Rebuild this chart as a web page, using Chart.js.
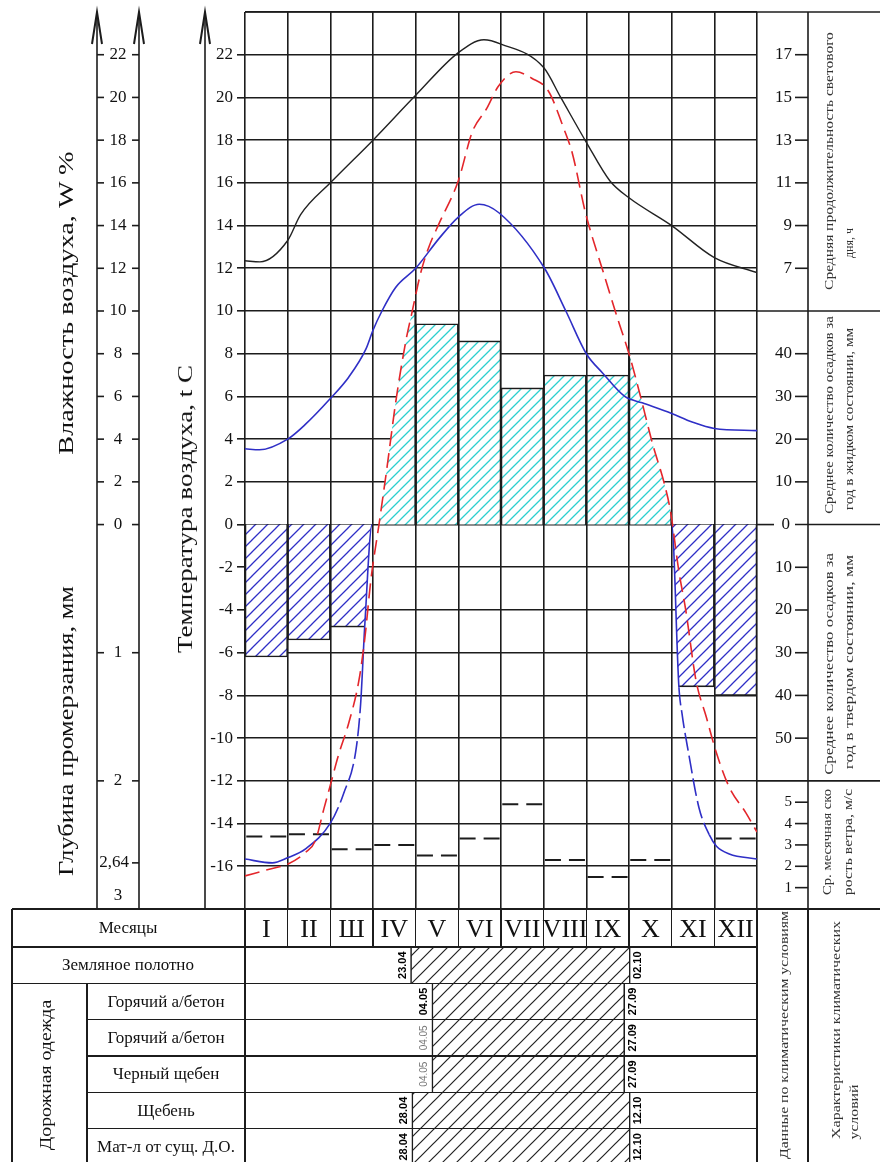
<!DOCTYPE html>
<html><head><meta charset="utf-8">
<script src="https://cdn.jsdelivr.net/npm/chart.js@4.4.1/dist/chart.umd.min.js"></script>
<style>
html,body{margin:0;padding:0;background:#fff;width:880px;height:1162px;overflow:hidden;position:relative;}
canvas{position:absolute;left:0;}
#c1{top:0;}
#c2{top:947px;}
.ln{position:absolute;background:#1c1c1c;}
.tx{position:absolute;white-space:nowrap;line-height:1;color:#111;font-family:"Liberation Serif",serif;}
</style></head>
<body>
<canvas id="c1" width="880" height="911"></canvas>
<canvas id="c2" width="880" height="218"></canvas>
<script>
// ---------------- data ----------------
const monthLabels = ['I','II','Ш','IV','V','VI','VII','VIII','IX','X','XI','XII'];
// curve sample positions in months (0 = start of January, 12 = end of December)
const tempX = [0,0.64,1,1.42,1.65,1.85,2,2.19,2.43,2.67,2.81,2.95,3.14,3.33,3.53,3.77,3.91,4.12,4.31,4.55,5,5.33,5.67,5.93,6.35,6.72,7.11,7.48,7.67,7.98,8.4,8.74,9,9.27,9.55,9.83,9.97,10.17,10.33,10.57,10.81,11.05,11.35,11.74,12];
const tempC = [-16.45,-16.1,-15.9,-15.35,-14.8,-13.3,-12.2,-10.8,-9.3,-7.3,-5.3,-2.6,0,2.7,5.7,8.6,9.9,11.8,13.0,14.1,16.1,18.4,19.5,20.5,21.2,20.9,20.3,18.5,17.4,14.6,11.8,9.6,8.0,6.0,3.8,1.9,0.65,-2.2,-4.0,-7.3,-9.0,-10.7,-12.3,-13.5,-14.4];
const humX = [0,0.34,1,1.42,2,2.43,2.83,3,3.21,3.53,4,4.55,5,5.49,5.95,7.02,7.52,8,8.38,8.9,9.31,10,10.48,11,12];
const humW = [3.55,3.5,4.0,4.7,5.9,6.9,8.2,9.1,10.0,11.1,12.0,13.4,14.4,15.0,14.6,12.0,10.0,8.0,7.1,6.0,5.7,5.2,4.8,4.5,4.4];
const dayX = [0,0.35,1,1.3,2,3,4,5,5.6,6,7,7.4,8,8.55,9,10,11,12];
const dayHours = [7.35,7.3,8.3,9.5,11.0,13.0,15.1,17.1,17.7,17.5,16.4,15.0,12.9,11.1,10.3,9.0,7.5,6.8];
const frostX = [0,0.64,1,1.42,2,2.31,2.6,2.71,2.81,2.98,10,10.17,10.24,10.4,10.64,10.88,11.05,11.35,12];
const frostDepth = [2.61,2.64,2.60,2.53,2.33,2.10,1.76,1.40,0.77,0,0,1.27,1.47,1.79,2.21,2.42,2.51,2.57,2.61];
const windMS = [3.4,3.5,2.8,3.0,2.5,3.3,4.9,2.3,1.5,2.3,null,3.3];
const liquidMM = [null,null,null,50,47,43,32,35,35,40,null,null];
const solidMM = [31,27,24,null,null,null,null,null,null,null,38,40];
const humTicks = [0,2,4,6,8,10,12,14,16,18,20,22];
const depthTicks = [1,2,2.64,3];
const hourTicks = [7,9,11,13,15,17];
const liquidTicks = [0,10,20,30,40];
const solidTicks = [10,20,30,40,50];
const windTicks = [1,2,3,4,5];
const sectionBounds = [10,0,-12]; // temperature-axis values separating the right-hand panels
const layerNames = ['Земляное полотно','Горячий а/бетон','Горячий а/бетон','Черный щебен','Щебень','Мат-л от сущ. Д.О.'];
const workStart = [3.88,4.38,4.38,4.38,3.91,3.91];
const workEnd = [9.03,8.90,8.90,8.90,9.03,9.03];
const startDates = ['23.04','04.05','04.05','04.05','28.04','28.04'];
const endDates = ['02.10','27.09','27.09','27.09','12.10','12.10'];

// ---------------- helpers ----------------
const FONT = '"Liberation Serif", "Times New Roman", serif';
const INK = '#1c1c1c', BLUE = '#2f2fc6', RED = '#e3262b', CYAN = '#2ccfcf';
const pts = (xs, ys) => xs.map((x, i) => ({x, y: ys[i]}));
function hatch(color, gap, lw) {
  const c = document.createElement('canvas');
  c.width = gap; c.height = gap;
  const g = c.getContext('2d');
  g.fillStyle = '#fff'; g.fillRect(0, 0, gap, gap);
  g.strokeStyle = color; g.lineWidth = lw;
  g.beginPath();
  g.moveTo(-1, gap + 1); g.lineTo(gap + 1, -1);
  g.moveTo(-2, 2); g.lineTo(2, -2);
  g.moveTo(gap - 2, gap + 2); g.lineTo(gap + 2, gap - 2);
  g.stroke();
  return g.createPattern(c, 'repeat');
}
const hatchCyan = hatch(CYAN, 10, 1.3);
const hatchBlue = hatch(BLUE, 12, 1.3);
const hatchBlack = hatch('#222', 14, 1.2);

const liquidPts = [], solidPts = [], windPts = [];
liquidMM.forEach((v, i) => { if (v !== null) liquidPts.push({x: i + 0.5, y: v}); });
solidMM.forEach((v, i) => { if (v !== null) solidPts.push({x: i + 0.5, y: v}); });
windMS.forEach((w, i) => { if (w !== null) windPts.push({x: i + 0.03, y: w}, {x: i + 0.97, y: w}, {x: i + 0.985, y: null}); });

// clip bars to the region below / above a reference curve (as drawn by the library)
const clipPlugin = {
  id: 'clipByCurve',
  beforeDatasetDraw(chart, args) {
    const ds = chart.data.datasets[args.index];
    if (!ds.clipCurve) return;
    const idx = chart.data.datasets.findIndex(d => d.key === ds.clipCurve);
    const meta = chart.getDatasetMeta(idx);
    const a = chart.chartArea, ctx = chart.ctx;
    meta.dataset.updateControlPoints(a, 'x');
    const p = meta.data;
    ctx.save();
    ctx.beginPath();
    ctx.moveTo(p[0].x, p[0].y);
    for (let i = 1; i < p.length; i++) {
      const q = p[i - 1], r = p[i];
      if (q.cp2x !== undefined && r.cp1x !== undefined) ctx.bezierCurveTo(q.cp2x, q.cp2y, r.cp1x, r.cp1y, r.x, r.y);
      else ctx.lineTo(r.x, r.y);
    }
    const yEdge = ds.clipSide === 'below' ? a.bottom : a.top;
    ctx.lineTo(a.right + 2, p[p.length - 1].y);
    ctx.lineTo(a.right + 2, yEdge); ctx.lineTo(a.left - 2, yEdge);
    ctx.lineTo(a.left - 2, p[0].y);
    ctx.closePath();
    ctx.clip();
  },
  afterDatasetDraw(chart, args) {
    if (chart.data.datasets[args.index].clipCurve) chart.ctx.restore();
  }
};

const extraAxes = {
  id: 'extraAxes',
  afterDraw(chart) {
    const {ctx, chartArea: a, scales: s} = chart;
    ctx.save();
    ctx.strokeStyle = INK; ctx.fillStyle = '#111'; ctx.lineWidth = 1.6;
    const seg = (x1, y1, x2, y2) => { ctx.beginPath(); ctx.moveTo(x1, y1); ctx.lineTo(x2, y2); ctx.stroke(); };
    seg(a.left, a.top, 880, a.top);
    const arrowAxis = x => {
      seg(x, a.top, x, a.bottom);
      ctx.save(); ctx.lineWidth = 2;
      ctx.beginPath(); ctx.moveTo(x - 5, a.top + 32); ctx.lineTo(x, a.top); ctx.lineTo(x + 5, a.top + 32); ctx.stroke();
      ctx.restore();
    };
    [97, 139, 205].forEach(arrowAxis);
    ctx.font = '17px ' + FONT; ctx.textAlign = 'center'; ctx.textBaseline = 'middle';
    humTicks.forEach(v => {
      const y = s.yHum.getPixelForValue(v);
      seg(97, y, 104, y); seg(132, y, 139, y);
      ctx.fillText(String(v), 118, y);
    });
    depthTicks.forEach(v => {
      const y = s.yDepth.getPixelForValue(v);
      const t = String(v).replace('.', ',');
      if (y > a.bottom - 8) { ctx.fillText(t, 118, y - 13); return; }
      const whole = Number.isInteger(v);
      if (whole) seg(97, y, 104, y);
      seg(132, y, 139, y);
      ctx.fillText(t, whole ? 118 : 114, y);
    });
    // right panels
    const RX = 808;
    seg(RX, a.top, RX, a.bottom);
    sectionBounds.forEach(v => {
      const y = s.yT.getPixelForValue(v);
      if (v === 0) { seg(a.right, y, 774, y); seg(795, y, 880, y); }
      else seg(a.right, y, 880, y);
    });
    ctx.textAlign = 'right';
    const rightTicks = (scale, vals, fs) => {
      ctx.font = fs + 'px ' + FONT;
      vals.forEach(v => {
        const y = scale.getPixelForValue(v);
        if (v === 0) { ctx.fillText('0', 790, y); return; }
        seg(RX - 13, y, RX, y);
        ctx.fillText(String(v), RX - 16, y);
      });
    };
    rightTicks(s.yH, hourTicks, 17);
    rightTicks(s.yLiq, liquidTicks, 17);
    rightTicks(s.ySol, solidTicks, 17);
    rightTicks(s.yWind, windTicks, 15);
    ctx.restore();
  }
};

const hidden = (min, max, reverse) => ({type: 'linear', display: false, min, max, reverse: !!reverse});

const chart1 = new Chart(document.getElementById('c1'), {
  type: 'line',
  data: {
    datasets: [
      {key: 'temp', type: 'line', data: pts(tempX, tempC), yAxisID: 'yT', borderColor: RED, borderWidth: 1.6, borderDash: [15, 7], pointRadius: 0, cubicInterpolationMode: 'monotone', order: 1},
      {key: 'day', type: 'line', data: pts(dayX, dayHours), yAxisID: 'yH', borderColor: '#222', borderWidth: 1.4, pointRadius: 0, cubicInterpolationMode: 'monotone', order: 2},
      {key: 'hum', type: 'line', data: pts(humX, humW), yAxisID: 'yHum', borderColor: BLUE, borderWidth: 1.6, pointRadius: 0, cubicInterpolationMode: 'monotone', order: 3},
      {key: 'frost', type: 'line', data: pts(frostX, frostDepth), yAxisID: 'yDepth', borderColor: BLUE, borderWidth: 1.6, pointRadius: 0, cubicInterpolationMode: 'monotone', order: 4,
        segment: {
          borderColor: c => (c.p0.parsed.y === 0 && c.p1.parsed.y === 0) ? 'rgba(0,0,0,0)' : undefined,
          borderDash: c => (Math.min(c.p0.parsed.y, c.p1.parsed.y) > 1.2 && Math.max(c.p0.parsed.y, c.p1.parsed.y) < 2.45) ? [18, 5] : undefined
        }},
      {key: 'wind', type: 'line', data: windPts, yAxisID: 'yWind', borderColor: INK, borderWidth: 2, borderDash: [16, 8], pointRadius: 0, order: 5},
      {key: 'liquid', type: 'bar', data: liquidPts, yAxisID: 'yLiq', backgroundColor: hatchCyan, borderColor: INK, borderWidth: 1.6, grouped: false, categoryPercentage: 1, barPercentage: 1, clipCurve: 'temp', clipSide: 'below', order: 10},
      {key: 'solid', type: 'bar', data: solidPts, yAxisID: 'ySol', backgroundColor: hatchBlue, borderColor: INK, borderWidth: 1.6, grouped: false, categoryPercentage: 1, barPercentage: 1, clipCurve: 'frost', clipSide: 'above', order: 11}
    ]
  },
  options: {
    responsive: false, animation: false, devicePixelRatio: 1, events: [],
    layout: {padding: {left: 205, right: 123, top: 12, bottom: 2}},
    plugins: {legend: {display: false}, tooltip: {enabled: false}},
    scales: {
      x: {type: 'linear', min: 0, max: 12, offset: false, ticks: {display: false, stepSize: 1}, grid: {offset: false, color: INK, lineWidth: 1.6, drawTicks: false}, border: {display: false}, afterFit(sc) { sc.height = 0; }},
      yT: {type: 'linear', position: 'left', min: -18, max: 24,
        ticks: {stepSize: 2, autoSkip: false, padding: 4, color: '#111', font: {family: FONT, size: 17}, callback: v => (v === 24 || v === -18) ? '' : String(v)},
        grid: {color: INK, lineWidth: 1.6, tickLength: 8, tickColor: c => (c.tick && (c.tick.value === 24 || c.tick.value === -18)) ? 'rgba(0,0,0,0)' : INK},
        border: {display: false},
        afterFit(sc) { sc.width = 40; sc.paddingTop = 0; sc.paddingBottom = 0; }},
      yHum: hidden(-18, 24),
      yH: hidden(-23, 19),
      yLiq: hidden(-90, 120),
      ySol: hidden(-120, 90, true),
      yWind: hidden(0, 42),
      yDepth: hidden(-4, 3, true)
    }
  },
  plugins: [clipPlugin, extraAxes]
});

const dateLabels = {
  id: 'dateLabels',
  afterDatasetsDraw(chart) {
    const {ctx, scales: {x, y}} = chart;
    const rot = (t, px, py, font, color) => {
      ctx.save(); ctx.translate(px, py); ctx.rotate(-Math.PI / 2);
      ctx.font = font; ctx.fillStyle = color; ctx.textAlign = 'center'; ctx.textBaseline = 'middle';
      ctx.fillText(t, 0, 0); ctx.restore();
    };
    layerNames.forEach((_, i) => {
      const yc = y.getPixelForValue(i);
      const faint = i === 2 || i === 3;
      rot(startDates[i], x.getPixelForValue(workStart[i]) - 8, yc, faint ? '10px "Liberation Sans"' : 'bold 11px "Liberation Sans"', faint ? '#777' : '#000');
      rot(endDates[i], x.getPixelForValue(workEnd[i]) + 8, yc, 'bold 11px "Liberation Sans"', '#000');
    });
  }
};

const chart2 = new Chart(document.getElementById('c2'), {
  type: 'bar',
  data: {labels: layerNames, datasets: [{data: workStart.map((v, i) => [v, workEnd[i]]), backgroundColor: hatchBlack, borderColor: INK, borderWidth: {left: 1.6, right: 1.6, top: 0, bottom: 0}, borderSkipped: false, categoryPercentage: 1, barPercentage: 1}]},
  options: {
    indexAxis: 'y', responsive: false, animation: false, devicePixelRatio: 1, events: [],
    layout: {padding: {left: 245, right: 123, top: 0, bottom: 0}},
    plugins: {legend: {display: false}, tooltip: {enabled: false}},
    scales: {x: {type: 'linear', min: 0, max: 12, offset: false, display: false}, y: {type: 'category', display: false}}
  },
  plugins: [dateLabels]
});

// ---------------- html text & table frame ----------------
function hl(x1, x2, y) { const d = document.createElement('div'); d.className = 'ln'; d.style.left = x1 + 'px'; d.style.top = (y - 0.8) + 'px'; d.style.width = (x2 - x1) + 'px'; d.style.height = '1.6px'; document.body.appendChild(d); }
function vl(x, y1, y2) { const d = document.createElement('div'); d.className = 'ln'; d.style.left = (x - 0.8) + 'px'; d.style.top = y1 + 'px'; d.style.width = '1.6px'; d.style.height = (y2 - y1) + 'px'; document.body.appendChild(d); }
function txt(str, cx, cy, font, opts) {
  opts = opts || {};
  const d = document.createElement('div');
  d.className = 'tx'; d.textContent = str;
  d.style.font = font; d.style.left = cx + 'px'; d.style.top = cy + 'px';
  if (opts.color) d.style.color = opts.color;
  document.body.appendChild(d);
  const k = opts.len ? opts.len / d.offsetWidth : 1;
  d.style.transform = 'translate(-50%,-50%)' + (opts.rot ? ' rotate(-90deg)' : '') + ' scaleX(' + k + ')';
}

// axis titles
txt('Влажность воздуха, W %', 66, 303, '22px ' + FONT, {rot: 1, len: 303});
txt('Глубина промерзания, мм', 66, 731, '22px ' + FONT, {rot: 1, len: 290});
txt('Температура воздуха, t C', 185, 509, '22px ' + FONT, {rot: 1, len: 288});
// right panel titles
const RF = '12px ' + FONT, RC = '#333';
txt('Средняя продолжительность светового', 829, 161, RF, {rot: 1, len: 258, color: RC});
txt('дня, ч', 849, 243, RF, {rot: 1, color: RC});
txt('Среднее количество осадков за', 829, 415, RF, {rot: 1, len: 198, color: RC});
txt('год в жидком состоянии, мм', 849, 419, RF, {rot: 1, len: 182, color: RC});
txt('Среднее количество осадков за', 829, 664, RF, {rot: 1, len: 222, color: RC});
txt('год в твердом состоянии, мм', 849, 662, RF, {rot: 1, len: 214, color: RC});
txt('Ср. месячная ско', 827, 842, RF, {rot: 1, len: 106, color: RC});
txt('рость ветра, м/с', 848, 842, RF, {rot: 1, len: 106, color: RC});

// table frame
const xs = chart2.scales.x, ys = chart2.scales.y;
const rowH = (chart2.chartArea.bottom - chart2.chartArea.top) / layerNames.length;
const bodyTop = 947 + chart2.chartArea.top;
const rowEdge = layerNames.map((_, i) => bodyTop + i * rowH).concat([bodyTop + layerNames.length * rowH]);
const T0 = 909, TB = rowEdge[rowEdge.length - 1] + 2;
hl(12, 880, T0);
vl(12, T0, TB);
hl(12, 757, 947);
hl(12, 757, rowEdge[1]);
for (let i = 2; i < rowEdge.length; i++) hl(87, 757, rowEdge[i]);
vl(87, rowEdge[1], TB);
vl(245, T0, TB);
for (let m = 1; m < 12; m++) vl(xs.getPixelForValue(m), T0, 947);
vl(757, T0, TB);
vl(808, T0, TB);

txt('Месяцы', 128, 928, '17px ' + FONT);
monthLabels.forEach((m, i) => txt(m, xs.getPixelForValue(i + 0.5), 929, '26px ' + FONT));
layerNames.forEach((n, i) => {
  const cy = 947 + ys.getPixelForValue(i);
  txt(n, i === 0 ? 128 : 166, cy, '17px ' + FONT);
});
txt('Дорожная одежда', 46, (rowEdge[1] + TB) / 2, '17px ' + FONT, {rot: 1, len: 150});
txt('Данные по климатическим условиям', 784, 1035, RF, {rot: 1, len: 248, color: RC});
txt('Характеристики климатических', 836, 1030, RF, {rot: 1, len: 218, color: RC});
txt('условий', 854, 1112, RF, {rot: 1, len: 55, color: RC});
</script>
</body></html>
